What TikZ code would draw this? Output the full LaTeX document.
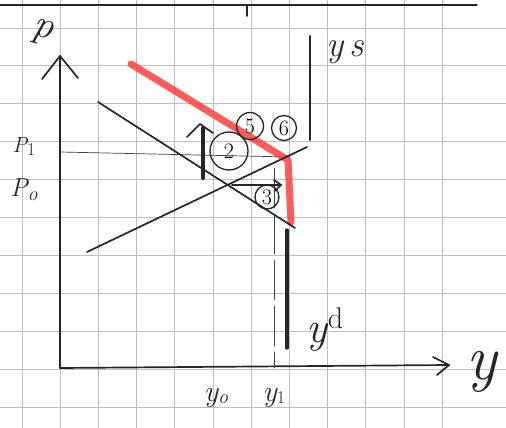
\documentclass[tikz,border=0pt]{standalone}
\usepackage{fontspec}
\usetikzlibrary{arrows.meta}
\newcommand{\fsz}[1]{\fontsize{#1}{#1}\selectfont\itshape}
\begin{document}
\begin{tikzpicture}[x=1pt,y=-1pt, line cap=round, line join=round,
  gridline/.style={draw=gray!50, line width=0.8pt},
  ink/.style={draw=black!85, line width=1.7pt},
  heavy/.style={draw=black!85, line width=3.2pt},
  thinink/.style={draw=black!75, line width=0.7pt},
  redline/.style={draw=red!75, line width=7pt, opacity=0.85},
  num/.style={draw=black!85, line width=1.3pt, circle, inner sep=0pt, font=\fontsize{22}{22}\selectfont},
  lab/.style={inner sep=0pt, text=black!85}]
\useasboundingbox (0,0) rectangle (506,428);
\fill[white] (0,0) rectangle (506,428);
% graph paper
\foreach \i in {0,...,11} \draw[gridline] ({22+38.2*\i},0) -- ({22+38.2*\i},428);
\foreach \j in {0,...,10} \draw[gridline] (0,{28+37.9*\j}) -- (506,{28+37.9*\j});
% top rule
\coordinate (tl) at (0,5); \coordinate (tr) at (477,5);
\coordinate (tk1) at (247,5); \coordinate (tk2) at (247,16);
\draw[ink] (tl) -- (tr);
\draw[ink] (tk1) -- (tk2);
% axes
\coordinate (O) at (60,368);
\coordinate (ytop) at (60,56);
\coordinate (xend) at (449,365);
\draw[ink] (O) -- (ytop);
\draw[ink] (42,79) -- (ytop) -- (78,78);
\draw[ink] (O) -- (xend);
\draw[ink] (433,357) -- (xend) -- (437,375);
\node[lab, font=\fsz{40}, rotate=-15] (Plab) at (42,32) {p};
\node[lab, font=\fsz{64}] (ylab) at (482,372) {y};
\node[lab, font=\fsz{22}] (P1) at (24,146) {P\raisebox{-3pt}{\fontsize{18}{18}\selectfont\upshape 1}};
\node[lab, font=\fsz{26}] (P0) at (24,190) {P\raisebox{-4pt}{\fontsize{20}{20}\selectfont o}};
\node[lab, font=\fsz{30}] (y0) at (216,398) {y\raisebox{-2pt}{\fontsize{20}{20}\selectfont o}};
\node[lab, font=\fsz{30}] (y1) at (274,398) {y\raisebox{-2pt}{\fontsize{18}{18}\selectfont\upshape 1}};
\node[lab, font=\fsz{36}] (ys) at (345,52) {y\,s};
\node[lab, font=\fsz{44}] (yd) at (325,330) {y\raisebox{14pt}{\fontsize{30}{30}\selectfont\upshape d}};
% P1 guide line and y1 dashed line
\coordinate (p1a) at (60,152); \coordinate (p1b) at (290,157);
\draw[thinink] (p1a) -- (p1b);
\coordinate (d1) at (274,168); \coordinate (d2) at (274,368);
\draw[thinink, dash pattern=on 40pt off 6pt] (d1) -- (d2);
% red path
\coordinate (r1) at (131,64); \coordinate (r2) at (288,160); \coordinate (r3) at (291,222);
\draw[redline] (r1) -- (r2) -- (r3);
% demand and supply lines
\coordinate (da) at (98,102); \coordinate (db) at (295,228);
\coordinate (sa) at (87,252); \coordinate (sb) at (307,147);
\draw[ink] (da) -- (db);
\draw[ink] (sa) -- (sb);
% vertical lines
\coordinate (ys1) at (310,36); \coordinate (ys2) at (310,140);
\draw[ink, line width=2pt] (ys1) -- (ys2);
\coordinate (yd1) at (287,230); \coordinate (yd2) at (287,348);
\draw[heavy] (yd1) -- (yd2);
% up arrow
\coordinate (ua1) at (203,178); \coordinate (ua2) at (203,128);
\draw[heavy, line width=4pt] (ua1) -- (ua2);
\draw[ink] (187,137) -- (200,124) -- (213,133);
% horizontal arrow
\coordinate (ha1) at (232,185); \coordinate (ha2) at (281,185);
\draw[ink] (ha1) -- (ha2);
\draw[ink] (274,180) -- (ha2) -- (275,191);
% numbered circles
\node[num, minimum size=38pt] (c2) at (229,151) {2};
\node[num, minimum size=27pt] (c5) at (250,126) {5};
\node[num, minimum size=25pt] (c6) at (284,128) {6};
\node[num, minimum size=24pt] (c3) at (267,197) {3};
\end{tikzpicture}
\end{document}
